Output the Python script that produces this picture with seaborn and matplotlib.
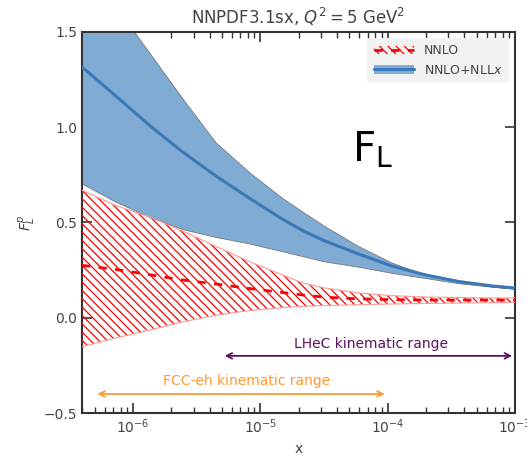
import numpy as np
import pandas as pd
import seaborn as sns
import matplotlib.pyplot as plt
from matplotlib.patches import Patch
from matplotlib.lines import Line2D

# values (log10 x positions)
log_x = [-6.4, -6.14, -5.87, -5.61, -5.35, -5.08, -4.82, -4.66,
         -4.5, -4.23, -3.97, -3.71, -3.44, -3.18, -3.0]

nllx_central = [1.316, 1.167, 1.01, 0.87, 0.745, 0.625, 0.515, 0.455,
                0.405, 0.335, 0.272, 0.226, 0.19, 0.167, 0.156]
nllx_upper = [1.88, 1.64, 1.39, 1.15, 0.92, 0.76, 0.625, 0.553,
              0.483, 0.376, 0.29, 0.226, 0.19, 0.164, 0.153]
nllx_lower = [0.704, 0.61, 0.529, 0.465, 0.424, 0.389, 0.348, 0.322,
              0.296, 0.268, 0.236, 0.209, 0.181, 0.163, 0.152]

nnlo_central = [0.275, 0.254, 0.226, 0.198, 0.177, 0.153, 0.132, 0.119,
                0.108, 0.099, 0.095, 0.093, 0.093, 0.093, 0.093]
nnlo_upper = [0.669, 0.59, 0.529, 0.455, 0.375, 0.293, 0.223, 0.181,
              0.157, 0.13, 0.116, 0.109, 0.106, 0.104, 0.104]
nnlo_lower = [-0.152, -0.107, -0.065, -0.022, 0.013, 0.038, 0.053, 0.06,
              0.064, 0.068, 0.072, 0.075, 0.077, 0.079, 0.08]

lhec_range = [5e-6, 1e-3]
fcc_range = [5e-7, 1e-4]

sns.set_style("ticks")
plt.rcParams['font.family'] = ['DejaVu Sans']
plt.rcParams['hatch.linewidth'] = 0.9
text_col = '#444444'

x_vals = [10 ** v for v in log_x]
df = pd.DataFrame({'x': x_vals, 'nnlo': nnlo_central, 'nllx': nllx_central})

fig = plt.figure(figsize=(5.27, 4.62), dpi=100)
ax = fig.add_axes([0.156, 0.106, 0.821, 0.825])

# NNLO+NLLx band
blue_fill = '#80acd4'
blue_line = '#3a78b8'
ax.fill_between(x_vals, nllx_lower, nllx_upper, facecolor=blue_fill,
                edgecolor='#777777', linewidth=0.6, zorder=2)
sns.lineplot(data=df, x='x', y='nllx', ax=ax, color=blue_line, lw=2.2, zorder=3)

# NNLO hatched band
ax.fill_between(x_vals, nnlo_lower, nnlo_upper, facecolor='none',
                edgecolor='red', hatch='\\\\\\\\', linewidth=0, zorder=4)
ax.plot(x_vals, nnlo_upper, color='#ff9999', lw=0.8, zorder=4)
ax.plot(x_vals, nnlo_lower, color='#ff9999', lw=0.8, zorder=4)
sns.lineplot(data=df, x='x', y='nnlo', ax=ax, color='red', lw=2,
             linestyle=(0, (3, 3)), zorder=5)

ax.set_xscale('log')
ax.set_xlim(4e-7, 1e-3)
ax.set_ylim(-0.5, 1.5)
ax.set_yticks([-0.5, 0.0, 0.5, 1.0, 1.5])

# kinematic ranges
ax.annotate('', xy=(lhec_range[0], -0.2), xytext=(lhec_range[1], -0.2),
            arrowprops=dict(arrowstyle='<->', color='#5c1060', lw=1.3))
ax.text(np.sqrt(lhec_range[0] * lhec_range[1]) * 1.05, -0.14, 'LHeC kinematic range',
        color='#5c1060', ha='center', va='center', fontsize=10)
ax.annotate('', xy=(fcc_range[0], -0.4), xytext=(fcc_range[1], -0.4),
            arrowprops=dict(arrowstyle='<->', color='#ff9933', lw=1.3))
ax.text(np.sqrt(fcc_range[0] * fcc_range[1]) * 1.1, -0.33, 'FCC-eh kinematic range',
        color='#ff9933', ha='center', va='center', fontsize=10)

ax.text(0.67, 0.69, r'$\mathregular{F_L}$', transform=ax.transAxes, fontsize=29,
        color='black', ha='center', va='center')

ax.set_title(r'NNPDF3.1sx, $Q^2 = 5$ GeV$^2$', color=text_col, fontsize=12)
ax.set_xlabel('x', color=text_col, fontsize=10)
ax.set_ylabel(r'$F_L^p$', color=text_col, fontsize=10)

ax.tick_params(which='both', direction='in', top=True, right=True,
               colors='#333333', labelcolor=text_col, labelsize=10)
ax.tick_params(which='major', length=7, width=1.2)
ax.tick_params(which='minor', length=4, width=1)
for sp in ax.spines.values():
    sp.set_color('#333333')
    sp.set_linewidth(1.5)

handles = [
    (Patch(facecolor='none', edgecolor='red', hatch='\\\\\\\\', linewidth=0),
     Line2D([], [], color='red', lw=2, linestyle=(0, (3, 3)))),
    (Patch(facecolor=blue_fill, edgecolor='none'),
     Line2D([], [], color=blue_line, lw=2.2)),
]
leg = ax.legend(handles, ['NNLO', r'NNLO+NLL$x$'], loc='upper right', fontsize=9,
                frameon=True, facecolor='#f2f2f2', edgecolor='none', framealpha=1,
                handlelength=3.2, borderpad=0.5)
for t in leg.get_texts():
    t.set_color(text_col)

fig.savefig('out.png', dpi=100)
